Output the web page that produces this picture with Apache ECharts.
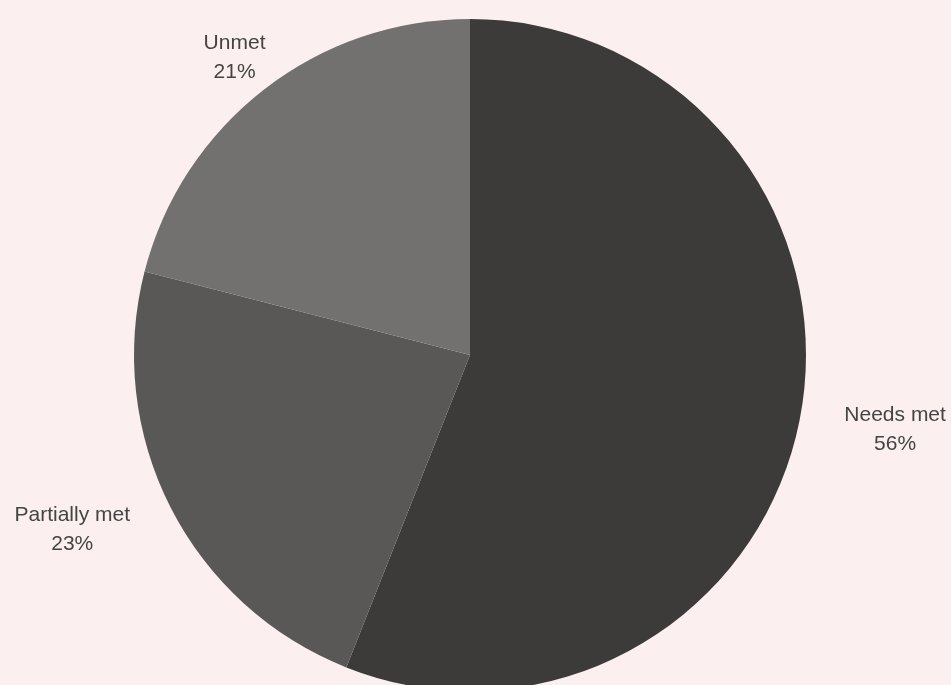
<!DOCTYPE html>
<html>
<head>
<meta charset="utf-8">
<script src="https://cdn.jsdelivr.net/npm/echarts@6/dist/echarts.min.js"></script>
<style>
  html, body { margin: 0; padding: 0; background: #fbf0ef; }
  #chart { width: 951px; height: 685px; }
</style>
</head>
<body>
<div id="chart"></div>
<script>
var categories = ['Needs met', 'Partially met', 'Unmet'];
var values = [56, 23, 21];
var colors = ['#3d3b39', '#5a5856', '#73716f'];

var chart = echarts.init(document.getElementById('chart'));

chart.setOption({
    backgroundColor: '#fbf0ef',
    animation: false,
    series: [
        {
            type: 'pie',
            center: [470, 355],
            radius: 336,
            startAngle: 90,
            clockwise: true,
            data: categories.map(function (name, i) {
                return { name: name, value: values[i], itemStyle: { color: colors[i] } };
            }),
            label: {
                show: true,
                position: 'outside',
                formatter: '{b}\n{d}%',
                color: '#444',
                fontFamily: 'Liberation Sans, Arial, sans-serif',
                fontSize: 21,
                lineHeight: 29,
                overflow: 'none',
                edgeDistance: 0
            },
            labelLine: {
                show: false,
                length: 40,
                length2: 0
            },
            // centre the two lines of every label; the top one sits centred on its anchor
            labelLayout: function (p) {
                var r = p.labelRect;
                var cx = r.x + r.width / 2;
                var dy = 4;
                if (p.dataIndex === 2) {
                    cx = r.x + r.width;
                    dy = 0;
                }
                return { x: cx, dy: dy, align: 'center' };
            }
        }
    ]
});
</script>
</body>
</html>
